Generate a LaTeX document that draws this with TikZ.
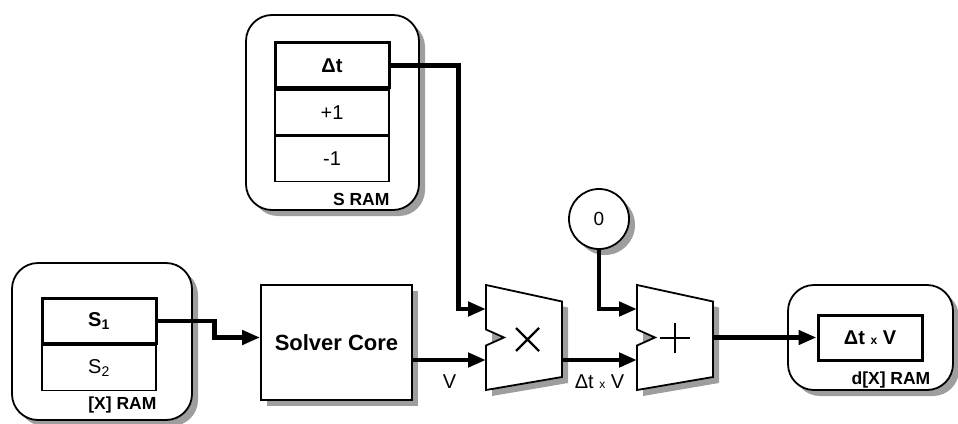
\documentclass[tikz,border=0pt]{standalone}
\usepackage{fontspec}
\setmainfont{Liberation Sans}
\usetikzlibrary{positioning,arrows.meta,shadows,calc}

\begin{document}
\begin{tikzpicture}[x=1pt,y=-1pt,
  every node/.style={font=\fontsize{20}{23}\selectfont},
  shade/.style={drop shadow={shadow xshift=6pt,shadow yshift=-6pt,fill=black!38,opacity=1}},
  ram/.style={draw,line width=1.8pt,rounded corners=26pt,fill=white,shade},
  cell/.style={draw,line width=1.2pt,minimum width=114pt,minimum height=45pt,inner sep=0pt,fill=white},
  hot/.style={cell,line width=3pt},
  lbl/.style={font=\fontsize{17.5}{20}\selectfont\bfseries,inner sep=0pt,anchor=north east},
  wire/.style={line width=4.5pt,-{Triangle[length=18pt,width=14pt]}},
  alu/.style={draw,line width=1.8pt,fill=white}]
  \useasboundingbox (0,0) rectangle (958,423);

  % memories
  \node[ram,minimum width=173pt,minimum height=195pt] (sram) at (332.5,112.5) {};
  \node[cell] (p1) at (332,112.5) {+1};
  \node[cell,below=0pt of p1] (m1) {-1};
  \node[hot,above=0pt of p1] (dt) {\bfseries Δt};
  \node[lbl] (sramlbl) at ([yshift=-11pt]m1.south east) {S RAM};

  \node[ram,minimum width=180pt,minimum height=157pt] (xram) at (102,341.5) {};
  \node[cell] (s2) at (99,368) {S\textsubscript{2}};
  \node[hot,above=0pt of s2] (s1) {\bfseries S\textsubscript{1}};
  \node[lbl] (xramlbl) at ([yshift=-6pt]s2.south east) {[X] RAM};

  \node[ram,minimum width=165pt,minimum height=105pt] (dxram) at (870.5,337.5) {};
  \node[hot,minimum width=104pt] (dx) at (870,337.5) {\bfseries Δt {\fontsize{12}{14}\selectfont x} V};
  \node[lbl] (dxramlbl) at ([xshift=7pt,yshift=-10pt]dx.south east) {d[X] RAM};

  % solver and constant
  \node[draw,line width=1.8pt,fill=white,shade,minimum width=151pt,minimum height=115pt,font=\fontsize{22}{25}\selectfont\bfseries] (core) at (336.5,342.5) {Solver Core};
  \node[draw,circle,line width=1.8pt,fill=white,shade,minimum size=60pt,font=\fontsize{19}{21}\selectfont] (zero) at (599,219) {0};

  % multiplier and adder
  \coordinate (mul) at (524,337.5);
  \coordinate (add) at (675,337.5);
  \foreach \u in {mul,add} {
    \fill[black!38,shift={(\u)},xshift=6pt,yshift=-6pt] (-38,-52.5) -- (38,-36) -- (38,39.5) -- (-38,52.5) -- cycle;
    \draw[alu,shift={(\u)}] (-38,-52.5) -- (38,-36) -- (38,39.5) -- (-38,52.5) -- (-38,8) -- (-20,0) -- (-38,-8) -- cycle;
    \coordinate (\u-a) at ($(\u)+(-38,-28.5)$);
    \coordinate (\u-b) at ($(\u)+(-38,22.5)$);
  }
  \draw[line width=2.4pt,shift={(mul)}] (-8,-9.5) -- (15,13.5) (-8,13.5) -- (15,-9.5);
  \draw[line width=2.4pt,shift={(add)}] (-15,0.5) -- (15,0.5) (0,-14.5) -- (0,15.5);
  \coordinate (mul-o) at ($(mul)+(38,22.5)$);
  \coordinate (add-o) at ($(add)+(38,0)$);

  % wires
  \draw[wire] (dt.east) -- ++(68,0) |- (mul-a);
  \draw[wire] (s1.east) -- ++(57,0) |- ([yshift=5pt]core.west);
  \draw[wire] (core.east |- mul-b) -- node[below=9pt] (vlbl) {V} (mul-b);
  \draw[wire] (mul-o) -- node[below=9pt] (dtvlbl) {Δt {\fontsize{12}{14}\selectfont x} V} (add-b);
  \draw[wire] (zero.south) |- (add-a);
  \draw[wire] (add-o) -- (dx.west);
\end{tikzpicture}
\end{document}
